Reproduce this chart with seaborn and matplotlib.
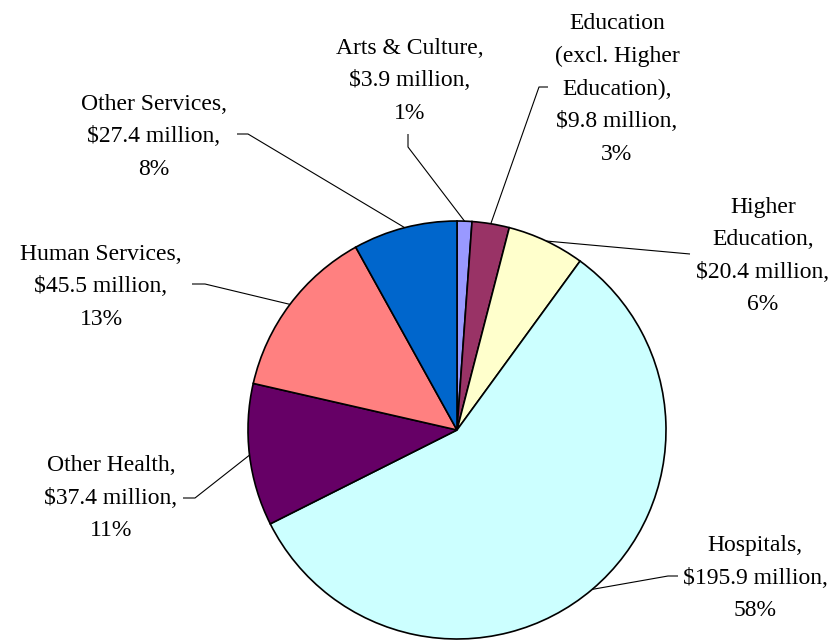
import numpy as np
import matplotlib
matplotlib.use("Agg")
import matplotlib.pyplot as plt
import seaborn as sns

# Funding by sector, in millions of dollars (clockwise from 12 o'clock)
sectors = [
    "Arts & Culture",
    "Education\n(excl. Higher\nEducation)",
    "Higher\nEducation",
    "Hospitals",
    "Other Health",
    "Human Services",
    "Other Services",
]
amounts = [3.9, 9.8, 20.4, 195.9, 37.4, 45.5, 27.4]
colors = ["#9999FF", "#993366", "#FFFFCC", "#CCFFFF", "#660066", "#FF8080", "#0066CC"]

# Label placement in figure pixels: text centre, elbow point, elbow end
label_pos = [
    ((410, 81), (408, 147), (408, 134)),
    ((617, 89), (539, 87), (548, 87)),
    ((763, 256), (690, 254), (690, 254)),
    ((755, 578), (668, 576), (678, 576)),
    ((111, 498), (195, 498), (183, 498)),
    ((101, 287), (205, 284), (192, 284)),
    ((154, 137), (248, 134), (237, 134)),
]

sns.set_theme(style="white")
plt.rcParams["font.family"] = ["Liberation Serif", "DejaVu Serif"]

W, H = 833, 640
fig = plt.figure(figsize=(W / 100, H / 100), dpi=100)
ax = fig.add_axes([0, 0, 1, 1])

cx, cy, r = 457, H - 430, 209
wedges, _ = ax.pie(
    amounts,
    colors=colors,
    startangle=90,
    counterclock=False,
    center=(cx, cy),
    radius=r,
    frame=True,
    wedgeprops=dict(edgecolor="black", linewidth=1.2),
)
ax.set_xlim(0, W)
ax.set_ylim(0, H)
ax.set_aspect("equal")
ax.axis("off")

total = sum(amounts)
for name, val, w, (txt, elbow, end) in zip(sectors, amounts, wedges, label_pos):
    pct = val / total * 100
    label = f"{name},\n${val:.1f} million,\n{pct:.0f}%"
    ax.text(txt[0], H - txt[1], label, ha="center", va="center",
            multialignment="center", fontsize=17, linespacing=1.72,
            color="black")
    mid = np.deg2rad((w.theta1 + w.theta2) / 2)
    ex, ey = cx + r * np.cos(mid), cy + r * np.sin(mid)
    ax.plot([ex, elbow[0], end[0]], [ey, H - elbow[1], H - end[1]],
            color="black", linewidth=0.8, solid_capstyle="butt")

fig.savefig("out.png", dpi=100, facecolor="white")
